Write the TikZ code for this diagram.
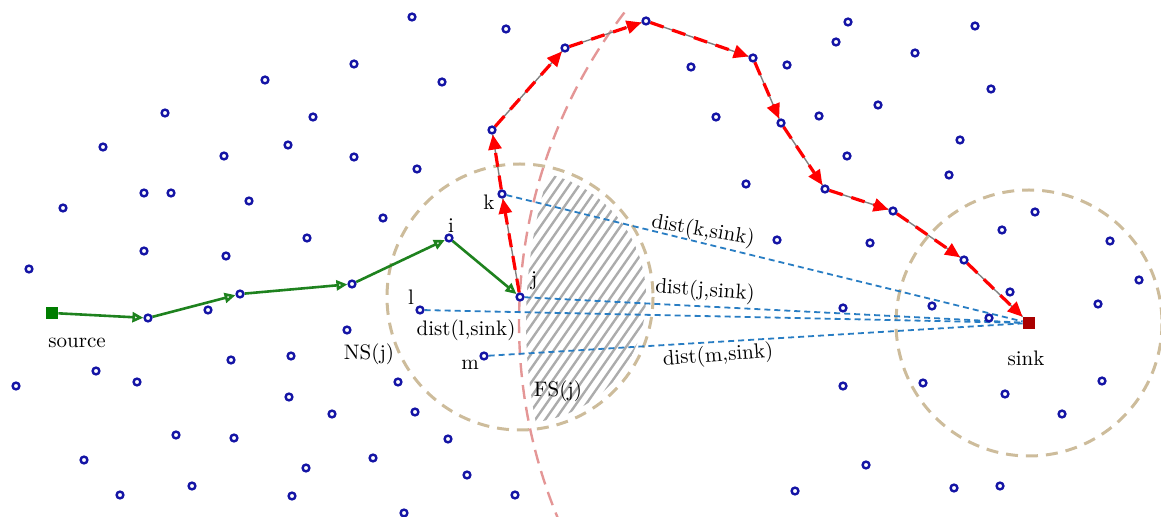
\documentclass[tikz,border=0pt]{standalone}
\usetikzlibrary{arrows.meta,
                backgrounds}
\definecolor{nodeblue}{RGB}{20,20,165}
\definecolor{rangetan}{RGB}{205,188,155}
\definecolor{fspink}{RGB}{228,150,150}
\definecolor{distblue}{RGB}{40,125,195}
\definecolor{hopgreen}{RGB}{30,130,30}
\definecolor{srcgreen}{RGB}{0,125,0}
\definecolor{sinkred}{RGB}{170,0,0}
\definecolor{hatchgray}{RGB}{172,172,172}

\begin{document}
\begin{tikzpicture}%
    [x=0.5pt, y=-0.5pt,
     sensor/.style = {circle, draw=nodeblue, line width=1.2pt, fill=white, inner sep=0pt, minimum size=3.4pt},
     endpoint/.style = {rectangle, inner sep=0pt, minimum size=6pt},
     lbl/.style = {inner sep=0pt, font=\fontsize{10.5}{12}\selectfont},
     radiorange/.style = {draw=rangetan, line width=1.5pt, dash pattern=on 6pt off 4pt},
     fsarc/.style = {draw=fspink, line width=1.2pt, dash pattern=on 7pt off 4pt},
     distline/.style = {draw=distblue, line width=0.9pt, dash pattern=on 3pt off 2pt},
     hop/.style = {draw=hopgreen, line width=1.3pt, -{Triangle[open, length=5.5pt, width=5pt]}},
     relaybase/.style = {draw=gray, line width=0.7pt},
     relay/.style = {draw=red, line width=1.6pt, dash pattern=on 7pt off 4.5pt, -{Triangle[length=7.5pt, width=6.5pt]}},
     hatchline/.style = {draw=hatchgray, line width=1.2pt}]
    \useasboundingbox (0,0) rectangle (1161,517);

    % scattered sensors
    \foreach \px/\py [count=\n] in {354/64, 265/80, 165/113, 313/117, 103/147, 288/145, 224/156,
        354/157, 144/193, 171/193, 249/201, 63/208, 383/218, 307/238, 144/251, 226/256, 29/269,
        412/17, 506/29, 442/82, 691/67, 716/117, 417/169, 746/184, 777/240,
        848/22, 836/42, 975/26, 787/65, 915/53, 991/89, 878/105, 819/116, 960/140, 847/156,
        949/175, 1035/212, 1002/230, 1110/241, 870/243,
        208/310, 347/330, 96/371, 16/386, 137/382, 231/360, 291/356, 289/397, 332/414, 176/435,
        234/438, 84/460, 306/468, 373/458, 120/495, 192/486, 292/496, 398/382,
        415/412, 448/439, 467/475, 515/495, 404/513,
        1010/292, 932/306, 843/308, 989/318, 1139/280, 1098/304, 843/386, 923/383, 1005/394,
        1102/381, 1062/414, 866/465, 795/491, 954/488, 1000/486}
        \node[sensor] (s\n) at (\px,\py) {};

    % sensors on the routes
    \node[sensor] (g1) at (148,318) {};
    \node[sensor] (g2) at (240,294) {};
    \node[sensor] (g3) at (352,284) {};
    \node[sensor] (i) at (449,238) {};
    \node[sensor] (j) at (520,297) {};
    \node[sensor] (k) at (502,194) {};
    \node[sensor] (l) at (420,310) {};
    \node[sensor] (m) at (484,356) {};
    \node[sensor] (r1) at (492,130) {};
    \node[sensor] (r2) at (565,48) {};
    \node[sensor] (r3) at (646,21) {};
    \node[sensor] (r4) at (753,58) {};
    \node[sensor] (r5) at (781,123) {};
    \node[sensor] (r6) at (825,189) {};
    \node[sensor] (r7) at (893,211) {};
    \node[sensor] (r8) at (964,260) {};

    \node[endpoint, fill=srcgreen] (src) at (52,313) {};
    \node[endpoint, fill=sinkred] (snk) at (1029,323) {};

    \begin{scope}[on background layer]
        % forwarding area FS(j)
        \begin{scope}
            \clip (j.center) circle[radius=126];
            \clip (snk.center) circle[radius=503];
            \foreach \s in {290,300,...,640}
                \draw[hatchline] (\s,470) -- ++(240,-343);
        \end{scope}

        \draw[radiorange] (j.center) circle[radius=133];
        \draw[radiorange] (snk.center) circle[radius=133];
        \draw[fsarc] (snk.center) ++(217.5:510) arc[start angle=217.5, end angle=157.5, radius=510];

        \foreach \a in {k,j,l,m}
            \draw[distline] (\a) -- (snk);

        \foreach \a/\b in {src/g1, g1/g2, g2/g3, g3/i, i/j}
            \draw[hop] (\a) -- (\b);

        \foreach \a/\b in {j/k, k/r1, r1/r2, r2/r3, r3/r4, r4/r5, r5/r6, r6/r7, r7/r8, r8/snk}
        {
            \draw[relaybase] (\a) -- (\b);
            \draw[relay] (\a) -- (\b);
        }
    \end{scope}

    \node[lbl] (srclbl) at (77,343) {source};
    \node[lbl] (nslbl) at (369,354) {NS(j)};
    \node[lbl] (ilbl) at (451,226) {i};
    \node[lbl] (klbl) at (489,202) {k};
    \node[lbl] (jlbl) at (534,281) {j};
    \node[lbl] (llbl) at (411,297) {l};
    \node[lbl] (mlbl) at (470,365) {m};
    \node[lbl] (fslbl) at (558,391) {FS(j)};
    \node[lbl] (sinklbl) at (1026,358) {sink};

    \node[lbl, rotate=-10] (kdist) at (703,231) {dist(k,sink)};
    \node[lbl, rotate=-4] (jdist) at (705,291) {dist(j,sink)};
    \node[lbl] (ldist) at (466,330) {dist(l,sink)};
    \node[lbl, rotate=4] (mdist) at (718,356) {dist(m,sink)};
\end{tikzpicture}
\end{document}
